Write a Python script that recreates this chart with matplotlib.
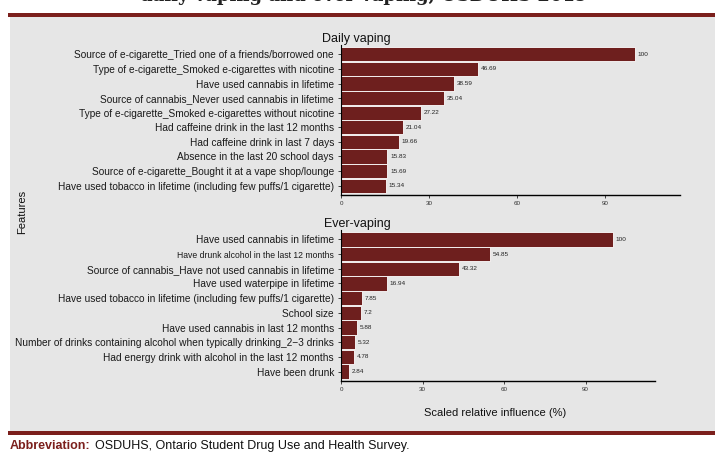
import matplotlib
matplotlib.use("Agg")
import matplotlib.pyplot as plt
from matplotlib.patches import Rectangle

plt.rcParams['font.family'] = ['Liberation Sans', 'DejaVu Sans']

daily_features = [
    "Source of e-cigarette_Tried one of a friends/borrowed one",
    "Type of e-cigarette_Smoked e-cigarettes with nicotine",
    "Have used cannabis in lifetime",
    "Source of cannabis_Never used cannabis in lifetime",
    "Type of e-cigarette_Smoked e-cigarettes without nicotine",
    "Had caffeine drink in the last 12 months",
    "Had caffeine drink in last 7 days",
    "Absence in the last 20 school days",
    "Source of e-cigarette_Bought it at a vape shop/lounge",
    "Have used tobacco in lifetime (including few puffs/1 cigarette)",
]
daily_values = [100, 46.69, 38.59, 35.04, 27.22, 21.04, 19.66, 15.83, 15.69, 15.34]

ever_features = [
    "Have used cannabis in lifetime",
    "Have drunk alcohol in the last 12 months",
    "Source of cannabis_Have not used cannabis in lifetime",
    "Have used waterpipe in lifetime",
    "Have used tobacco in lifetime (including few puffs/1 cigarette)",
    "School size",
    "Have used cannabis in last 12 months",
    "Number of drinks containing alcohol when typically drinking_2\u22123 drinks",
    "Had energy drink with alcohol in the last 12 months",
    "Have been drunk",
]
ever_values = [100, 54.85, 43.32, 16.94, 7.85, 7.2, 5.88, 5.32, 4.78, 2.84]

xticks = [0, 30, 60, 90]
BAR = '#6e1f1e'
RED = '#7b1f1c'
BG = '#e6e6e6'

fig = plt.figure(figsize=(7.24, 4.66), dpi=100)
fig.patch.set_facecolor('white')

fig.add_artist(Rectangle((10/724, 1-431/466), 705/724, (431-15)/466,
                         transform=fig.transFigure, facecolor=BG, edgecolor='none', zorder=0))
fig.add_artist(Rectangle((8/724, 1-16.5/466), 707/724, 3.5/466,
                         transform=fig.transFigure, facecolor=RED, edgecolor='none', zorder=1))
fig.add_artist(Rectangle((8/724, 1-434.5/466), 707/724, 3.5/466,
                         transform=fig.transFigure, facecolor=RED, edgecolor='none', zorder=1))

fig.text(364/724, 1.008, "daily vaping and ever vaping, OSDUHS 2019", ha='center', va='center',
         fontsize=13, fontweight='bold', family='DejaVu Serif', color='#222222')


def panel(rect, feats, vals, title, small_idx=None):
    ax = fig.add_axes(rect)
    ax.set_facecolor('none')
    y = list(range(len(feats)))
    ax.barh(y, vals, height=0.97, color=BAR, edgecolor='white', linewidth=0.6)
    ax.set_ylim(len(feats) - 0.36, -0.64)
    ax.set_xlim(0, 115.5)
    ax.set_yticks(y)
    ax.set_yticklabels(feats, fontsize=7.3, color='#1a1a1a')
    if small_idx is not None:
        ax.get_yticklabels()[small_idx].set_fontsize(6.2)
    ax.set_xticks(xticks)
    ax.set_xticklabels([str(t) for t in xticks], fontsize=4.5, color='#333333')
    for s in ['top', 'right']:
        ax.spines[s].set_visible(False)
    ax.spines['left'].set_linewidth(0.8)
    ax.spines['bottom'].set_linewidth(1.0)
    ax.tick_params(axis='y', length=2, width=0.5, pad=3)
    ax.tick_params(axis='x', length=2, width=0.5, pad=2)
    for yi, v in zip(y, vals):
        ax.text(v + 1.0, yi, f"{v:g}", fontsize=4.6, va='center', ha='left', color='#222222')
    ax.text(-0.055, 1.0, title, transform=ax.transAxes, fontsize=9, ha='left', va='bottom',
            color='#111111')
    return ax

ax1 = panel([341/724, 1-195/466, (680-341)/724, 150/466], daily_features, daily_values, "Daily vaping")
ax2 = panel([341/724, 1-381/466, (655-341)/724, 151/466], ever_features, ever_values, "Ever-vaping", small_idx=1)

fig.text(22/724, 1-212/466, "Features", rotation=90, ha='center', va='center', fontsize=8, color='#111111')
fig.text(495/724, 1-413/466, "Scaled relative influence (%)", ha='center', va='center', fontsize=8, color='#111111')

t = fig.text(10/724, 1-446/466, "Abbreviation:", ha='left', va='center', fontsize=9, color=RED,
             fontweight='bold')
fig.canvas.draw()
bb = t.get_window_extent(renderer=fig.canvas.get_renderer())
fig.text(bb.x1/724 + 4/724, 1-446/466, "OSDUHS, Ontario Student Drug Use and Health Survey.", ha='left', va='center',
         fontsize=9, color='#111111')

fig.savefig("out.png", dpi=100, facecolor='white')
